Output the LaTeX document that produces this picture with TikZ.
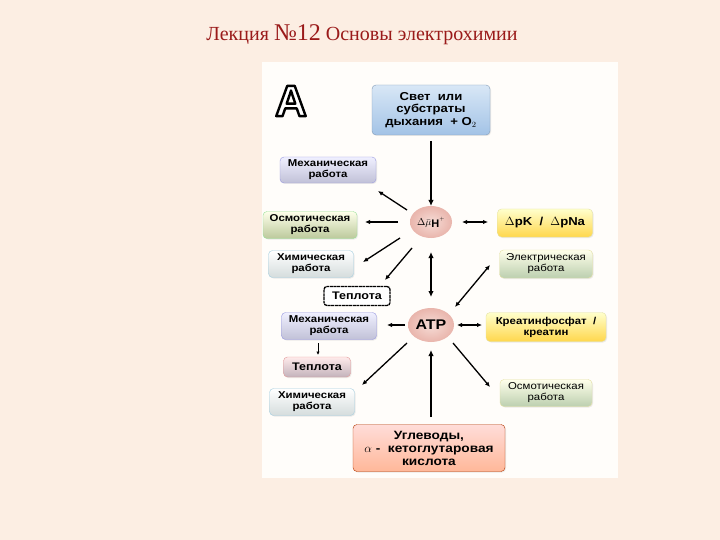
\documentclass[tikz,border=0pt]{standalone}
\usepackage{fontspec}
\setmainfont{Liberation Sans}
\newfontfamily\titlefont{Liberation Serif}
\newfontfamily\bfont[FakeStretch=1.14]{Liberation Sans}
\usetikzlibrary{arrows.meta,shapes.geometric,shadows}
\definecolor{bgpeach}{HTML}{FCEEE3}
\definecolor{panel}{HTML}{FFFDFA}
\definecolor{titlered}{HTML}{9A1A1A}
\definecolor{blobin}{HTML}{F6DCD6}
\definecolor{blobout}{HTML}{E9B5AC}
\definecolor{lighttop}{HTML}{D8E7F6}
\definecolor{lightbot}{HTML}{A3C3E6}
\tikzset{
  box/.style={rounded corners=4pt, align=center, font=\bfont\bfseries\fontsize{10}{11}\selectfont,
    inner sep=1pt, draw=#1!70!black!40, line width=0.4pt, drop shadow={opacity=0.15,shadow xshift=1pt,shadow yshift=-1pt}},
  blob/.style={ellipse, inner sep=0pt, inner color=blobin, outer color=blobout, draw=none},
  arr/.style={line width=1.3pt, -{Latex[length=5pt,width=4.5pt]}},
  darr/.style={line width=1.3pt, {Latex[length=5pt,width=4.5pt]}-{Latex[length=5pt,width=4.5pt]}},
  bigarr/.style={line width=2pt, -{Latex[length=6pt,width=5.5pt]}},
  bigdarr/.style={line width=2pt, {Latex[length=6pt,width=5.5pt]}-{Latex[length=6pt,width=5.5pt]}},
}
\begin{document}
\begin{tikzpicture}[x=1pt,y=-1pt]
\useasboundingbox (0,0) rectangle (720,540);
\fill[bgpeach] (0,0) rectangle (720,540);
\fill[panel] (262,62) rectangle (618,478);
% title
\node[text=titlered, font=\titlefont\fontsize{20}{22}\selectfont] (title) at (362,35) {Лекция {\fontsize{24}{24}\selectfont №12} Основы электрохимии};
% letter A (outlined)
\node[font=\bfseries\fontsize{44}{44}\selectfont, text=white] (letA) at (291,101) {\special{pdf:literal direct 2 Tr 2.4 w 0 G 1 j}A\special{pdf:literal direct 0 Tr 1 w}};
% nodes
\node[box=blue, top color=lighttop, bottom color=lightbot, draw=lightbot!80!black, minimum width=118pt, minimum height=50pt,
  font=\bfont\bfseries\fontsize{11.5}{12.5}\selectfont] (light) at (431,110) {Свет\ \ или\\субстраты\\дыхания\ \ + O$_2$};
\node[box=blue, top color=blue!6!white, bottom color=blue!22!gray!40, minimum width=96pt, minimum height=26pt] (mech1) at (328,170) {Механическая\\работа};
\node[blob, minimum width=42pt, minimum height=32pt] (dmu) at (431,222) {{\fontsize{10}{10}\selectfont$\Delta\bar{\mu}$}{\bfseries\fontsize{11}{11}\selectfont\raisebox{-2pt}{H}\raisebox{1pt}{$^{\scriptscriptstyle +}$}}};
\node[box=green, top color=green!6!yellow!8, bottom color=green!30!yellow!30!gray!60, minimum width=94pt, minimum height=27pt] (osm1) at (310,225) {Осмотическая\\работа};
\node[box=yellow, top color=yellow!20, bottom color=yellow!55!orange!70, minimum width=95pt, minimum height=28pt, font=\bfont\bfseries\fontsize{11.5}{12}\selectfont] (dpk) at (545,223) {$\Delta$pK\ \ /\ \ $\Delta$pNa};
\node[box=cyan, top color=white, bottom color=cyan!10!gray!30, minimum width=85pt, minimum height=27pt] (chem1) at (311,264) {Химическая\\работа};
\node[box=yellow, top color=yellow!8, bottom color=yellow!40!green!25!gray!50, minimum width=93pt, minimum height=28pt, font=\bfont\fontsize{10}{11}\selectfont] (elec) at (546,264) {Электрическая\\работа};
\node[rounded corners=3pt, draw=black, line width=1.3pt, dash pattern=on 3pt off 0.6pt, fill=white, minimum width=66pt, minimum height=19pt, font=\bfont\bfseries\fontsize{11}{11}\selectfont, inner sep=1pt] (heat1) at (357,296) {Теплота};
\node[box=blue, top color=blue!6!white, bottom color=blue!22!gray!40, minimum width=95pt, minimum height=27pt] (mech2) at (329,326) {Механическая\\работа};
\node[blob, minimum width=46pt, minimum height=34pt, font=\bfont\bfseries\fontsize{14}{14}\selectfont] (atp) at (431,325) {ATP};
\node[box=yellow, top color=yellow!20, bottom color=yellow!55!orange!70, minimum width=120pt, minimum height=29pt] (creat) at (546,327) {Креатинфосфат\ \ /\\креатин};
\node[box=red, top color=red!8!white, bottom color=red!30!violet!20!gray!50, minimum width=67pt, minimum height=20pt, font=\bfont\bfseries\fontsize{11}{11}\selectfont] (heat2) at (317,367) {Теплота};
\node[box=cyan, top color=white, bottom color=cyan!10!gray!30, minimum width=85pt, minimum height=27pt] (chem2) at (312,402) {Химическая\\работа};
\node[box=yellow, top color=yellow!8, bottom color=yellow!40!green!25!gray!50, minimum width=92pt, minimum height=27pt, font=\bfont\fontsize{10}{11}\selectfont] (osm2) at (546,393) {Осмотическая\\работа};
\node[box=orange, top color=orange!20!red!15!white, bottom color=orange!60!red!40, draw=orange!60!red!70!black, minimum width=152pt, minimum height=47pt,
  font=\bfont\bfseries\fontsize{12}{13}\selectfont] (carb) at (429,448) {Углеводы,\\$\alpha$ -\ \ кетоглутаровая\\кислота};
% connector end points
\coordinate (a1) at (431,141); \coordinate (a2) at (431,206);
\coordinate (b1) at (407,210); \coordinate (b2) at (378,191);
\coordinate (c1) at (398,222); \coordinate (c2) at (365,222);
\coordinate (d1) at (462,222); \coordinate (d2) at (488,222);
\coordinate (e1) at (400,238); \coordinate (e2) at (363,262);
\coordinate (f1) at (412,248); \coordinate (f2) at (385,280);
\coordinate (g1) at (431,252); \coordinate (g2) at (431,297);
\coordinate (h1) at (455,307); \coordinate (h2) at (490,265);
\coordinate (i1) at (405,325); \coordinate (i2) at (387,325);
\coordinate (j1) at (457,325); \coordinate (j2) at (482,325);
\coordinate (k1) at (318,343); \coordinate (k2) at (318,355);
\coordinate (l1) at (407,343); \coordinate (l2) at (362,385);
\coordinate (m1) at (453,343); \coordinate (m2) at (490,387);
\coordinate (n1) at (431,417); \coordinate (n2) at (431,350);
% connectors
\draw[bigarr] (a1) -- (a2);
\draw[arr] (b1) -- (b2);
\draw[arr] (c1) -- (c2);
\draw[darr] (d1) -- (d2);
\draw[arr] (e1) -- (e2);
\draw[arr] (f1) -- (f2);
\draw[bigdarr] (g1) -- (g2);
\draw[darr] (h1) -- (h2);
\draw[arr] (i1) -- (i2);
\draw[darr] (j1) -- (j2);
\draw[line width=1pt, -{Latex[length=3.5pt,width=3.5pt]}] (k1) -- (k2);
\draw[arr] (l1) -- (l2);
\draw[arr] (m1) -- (m2);
\draw[bigarr] (n1) -- (n2);
\end{tikzpicture}
\end{document}
